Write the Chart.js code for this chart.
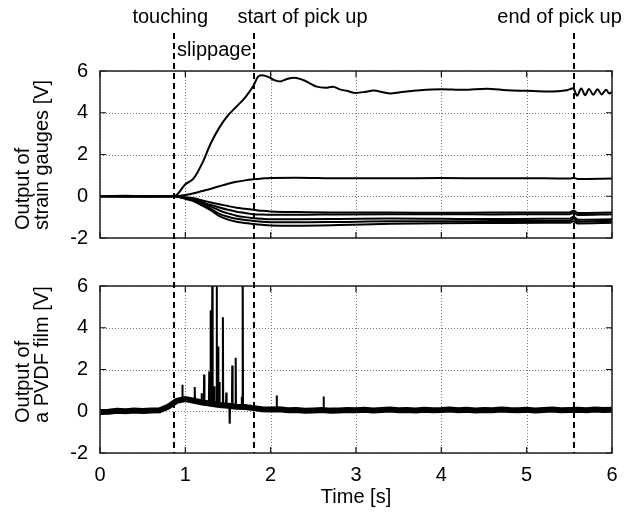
<!DOCTYPE html>
<html>
<head>
<meta charset="utf-8">
<script src="https://cdn.jsdelivr.net/npm/chart.js@4.4.1/dist/chart.umd.min.js"></script>
<style>
  body { margin: 0; background: #fff; }
  #wrap { position: relative; width: 634px; height: 517px; }
  canvas { position: absolute; left: 0; }
  #gauges { top: 0; }
  #pvdf { top: 262px; }
</style>
</head>
<body>
<div id="wrap">
  <canvas id="gauges" width="634" height="262"></canvas>
  <canvas id="pvdf" width="634" height="255"></canvas>
</div>
<script>
// --- DATA ---
const eventTimes = [0.87, 1.81, 5.55];
const eventLabels = ['touching', 'start of pick up', 'end of pick up'];
const phaseLabel = 'slippage';

// strain gauge with the big rise
const timeA = [0, 0.3, 0.6, 0.87, 1.0, 1.1, 1.2, 1.3, 1.4, 1.5, 1.6, 1.7, 1.8, 1.85, 1.9, 1.97,
  2.05, 2.11, 2.19, 2.28, 2.38, 2.46, 2.54, 2.64, 2.73, 2.81, 2.89, 3.0, 3.12, 3.2, 3.4, 3.52, 3.75,
  4.0, 4.26, 4.53, 4.77, 5.0, 5.23, 5.47, 5.547, 5.59, 5.64, 5.685, 5.73, 5.78, 5.83, 5.88, 5.93, 5.97, 6.0];
const gaugeA = [0, 0.02, -0.01, 0, 0.57, 0.87, 1.6, 2.55, 3.3, 3.87, 4.3, 4.73, 5.3, 5.72, 5.8, 5.72,
  5.55, 5.5, 5.62, 5.68, 5.57, 5.41, 5.25, 5.2, 5.25, 5.12, 5.05, 4.95, 5.01, 5.06, 4.92, 4.98, 5.08,
  5.13, 5.1, 5.15, 5.08, 5.05, 5.02, 5.08, 5.17, 4.82, 5.16, 4.84, 5.14, 4.86, 5.12, 4.88, 5.1, 4.92, 5.0];

// the other six gauges share one time base
const timeG = [0, 0.3, 0.6, 0.87, 1.0, 1.1, 1.2, 1.3, 1.4, 1.5, 1.6, 1.7, 1.8, 1.9, 2.0, 2.3, 2.8, 3.4, 4.0, 4.6, 5.2, 5.5, 5.55, 5.6, 6.0];
const gaugeB  = [0.01, -0.01, 0.01, 0, 0.06, 0.14, 0.25, 0.36, 0.48, 0.6, 0.69, 0.76, 0.81, 0.85, 0.88, 0.89, 0.86, 0.86, 0.87, 0.86, 0.86, 0.85, 0.88, 0.83, 0.85];
const gaugeC1 = [0, 0.01, -0.01, 0, -0.05, -0.1, -0.2, -0.3, -0.38, -0.47, -0.55, -0.6, -0.65, -0.7, -0.73, -0.76, -0.78, -0.78, -0.79, -0.78, -0.78, -0.78, -0.7, -0.8, -0.78];
const gaugeC2 = [0, -0.01, 0.01, 0, -0.07, -0.14, -0.28, -0.42, -0.54, -0.65, -0.74, -0.8, -0.86, -0.88, -0.89, -0.89, -0.87, -0.86, -0.86, -0.87, -0.86, -0.86, -0.8, -0.9, -0.86];
const gaugeC3 = [0, 0.01, 0, 0, -0.08, -0.17, -0.33, -0.5, -0.68, -0.82, -0.93, -1.0, -1.05, -1.08, -1.1, -1.1, -1.09, -1.07, -1.08, -1.09, -1.08, -1.08, -0.98, -1.12, -1.1];
const gaugeC4 = [0, -0.01, 0.01, 0, -0.1, -0.2, -0.4, -0.6, -0.84, -0.98, -1.08, -1.14, -1.18, -1.22, -1.24, -1.25, -1.23, -1.2, -1.2, -1.19, -1.18, -1.18, -1.08, -1.22, -1.17];
const gaugeC5 = [0, 0.01, -0.01, 0, -0.12, -0.24, -0.45, -0.68, -0.95, -1.12, -1.22, -1.28, -1.33, -1.37, -1.4, -1.41, -1.38, -1.32, -1.29, -1.28, -1.27, -1.27, -1.2, -1.3, -1.27];

// PVDF film: noisy base level + spikes
const pvdfTime = [0, 0.1, 0.2, 0.3, 0.4, 0.5, 0.6, 0.7, 0.8, 0.9, 1.0, 1.1, 1.2, 1.3, 1.4, 1.5, 1.6, 1.7, 1.8, 1.9,
  2.0, 2.1, 2.2, 2.3, 2.4, 2.5, 2.6, 2.7, 2.8, 2.9, 3.0, 3.1, 3.2, 3.3, 3.4, 3.5, 3.6, 3.7, 3.8, 3.9,
  4.0, 4.1, 4.2, 4.3, 4.4, 4.5, 4.6, 4.7, 4.8, 4.9, 5.0, 5.1, 5.2, 5.3, 5.4, 5.5, 5.6, 5.7, 5.8, 5.9, 6.0];
const pvdfBase = [-0.04, -0.02, 0.02, 0.0, 0.03, 0.01, 0.04, 0.05, 0.22, 0.5, 0.58, 0.5, 0.42, 0.36, 0.3, 0.26, 0.22, 0.2, 0.15, 0.1,
  0.08, 0.1, 0.05, 0.06, 0.02, 0.04, 0.06, 0.03, 0.04, 0.06, 0.05, 0.07, 0.04, 0.06, 0.08, 0.05, 0.06, 0.04, 0.07, 0.05,
  0.06, 0.08, 0.05, 0.07, 0.04, 0.06, 0.05, 0.08, 0.06, 0.05, 0.07, 0.04, 0.06, 0.08, 0.05, 0.06, 0.07, 0.05, 0.08, 0.06, 0.07];
const spikeTimes = [0.965, 1.11, 1.19, 1.22, 1.28, 1.297, 1.316, 1.34, 1.367, 1.383, 1.40, 1.44, 1.48, 1.52, 1.55, 1.59, 1.66, 1.672, 2.07, 2.62];
const spikePeaks = [1.27, 1.16, 0.86, 1.76, 1.9, 4.84, 7.5, 1.2, 7.5, 3.1, 1.4, 4.5, 0.9, -0.6, 2.19, 2.56, 0.7, 7.5, 0.76, 0.71];

// --- HELPERS ---
const fontFamily = "'Liberation Sans', Arial, Helvetica, sans-serif";
const tickFont = { family: fontFamily, size: 20 };
Chart.defaults.font.family = fontFamily;
Chart.defaults.color = '#000';

const pts = (ts, vs) => ts.map((t, i) => ({ x: t, y: vs[i] }));

function spikePoints() {
  const out = [];
  spikeTimes.forEach((t, i) => {
    let k = 0;
    pvdfTime.forEach((pt, j) => { if (Math.abs(pt - t) < Math.abs(pvdfTime[k] - t)) k = j; });
    const base = pvdfBase[k];
    out.push({ x: t - 0.004, y: base }, { x: t, y: spikePeaks[i] }, { x: t + 0.004, y: base }, { x: t + 0.005, y: null });
  });
  return out;
}

const lineStyle = { borderColor: '#000', borderWidth: 2, pointRadius: 0, fill: false, cubicInterpolationMode: 'monotone' };
const gridOpts = { display: false, drawTicks: false };
const borderOpts = { display: false };

// dotted grid, frame, inward ticks, dashed event lines, y title, top labels
const marksPlugin = {
  id: 'marks',
  beforeDatasetsDraw(chart) {
    const ctx = chart.ctx;
    const area = chart.chartArea;
    const xs = chart.scales.x, ys = chart.scales.y;
    ctx.save();
    ctx.strokeStyle = '#777';
    ctx.lineWidth = 1;
    ctx.setLineDash([1, 2]);
    ctx.beginPath();
    xs.ticks.forEach(t => {
      const px = Math.round(xs.getPixelForValue(t.value)) + 0.5;
      ctx.moveTo(px, area.top); ctx.lineTo(px, area.bottom);
    });
    ys.ticks.forEach(t => {
      const py = Math.round(ys.getPixelForValue(t.value)) + 0.5;
      ctx.moveTo(area.left, py); ctx.lineTo(area.right, py);
    });
    ctx.stroke();
    ctx.restore();
  },
  afterDraw(chart, args, opts) {
    const ctx = chart.ctx;
    const area = chart.chartArea;
    const xs = chart.scales.x, ys = chart.scales.y;
    ctx.save();
    ctx.strokeStyle = '#111';
    ctx.lineWidth = 1.2;
    ctx.beginPath();
    xs.ticks.forEach(t => {
      const px = xs.getPixelForValue(t.value);
      ctx.moveTo(px, area.bottom); ctx.lineTo(px, area.bottom - 6);
      ctx.moveTo(px, area.top); ctx.lineTo(px, area.top + 6);
    });
    ys.ticks.forEach(t => {
      const py = ys.getPixelForValue(t.value);
      ctx.moveTo(area.left, py); ctx.lineTo(area.left + 6, py);
      ctx.moveTo(area.right, py); ctx.lineTo(area.right - 6, py);
    });
    ctx.stroke();
    ctx.lineWidth = 1.5;
    ctx.strokeStyle = '#222';
    ctx.strokeRect(area.left, area.top, area.right - area.left, area.bottom - area.top);

    // event lines
    ctx.strokeStyle = '#000';
    ctx.lineWidth = 2;
    ctx.setLineDash([6, 4]);
    const bottom = opts.lineBottom == null ? area.bottom : opts.lineBottom;
    eventTimes.forEach(t => {
      const px = Math.round(xs.getPixelForValue(t));
      ctx.beginPath(); ctx.moveTo(px, opts.lineTop); ctx.lineTo(px, bottom); ctx.stroke();
    });
    ctx.setLineDash([]);

    ctx.fillStyle = '#000';
    ctx.font = '20px ' + fontFamily;
    ctx.textBaseline = 'alphabetic';

    if (opts.eventText) {
      const p = eventTimes.map(t => xs.getPixelForValue(t));
      ctx.textAlign = 'center';
      ctx.fillText(eventLabels[0], p[0] - 4, 23);
      ctx.fillText(phaseLabel, (p[0] + p[1]) / 2, 56);
      ctx.textAlign = 'left';
      ctx.fillText(eventLabels[1], p[1] - 17, 23);
      ctx.textAlign = 'center';
      ctx.fillText(eventLabels[2], p[2] - 14, 23);
    }

    // rotated two-line axis title
    ctx.textAlign = 'left';
    ctx.translate(0, opts.titleEnd);
    ctx.rotate(-Math.PI / 2);
    opts.title.forEach((line, i) => ctx.fillText(line, 0, opts.titleBase[i]));
    ctx.restore();
  }
};

// --- TOP: strain gauges ---
new Chart(document.getElementById('gauges'), {
  type: 'line',
  data: {
    datasets: [
      { data: pts(timeA, gaugeA), ...lineStyle },
      { data: pts(timeG, gaugeB), ...lineStyle },
      { data: pts(timeG, gaugeC1), ...lineStyle },
      { data: pts(timeG, gaugeC2), ...lineStyle },
      { data: pts(timeG, gaugeC3), ...lineStyle },
      { data: pts(timeG, gaugeC4), ...lineStyle },
      { data: pts(timeG, gaugeC5), ...lineStyle }
    ]
  },
  options: {
    responsive: false,
    animation: false,
    events: [],
    layout: { padding: { top: 71, right: 22, left: 0, bottom: 0 } },
    plugins: {
      legend: { display: false },
      tooltip: { enabled: false },
      marks: { title: ['Output of', 'strain gauges [V]'], titleEnd: 230, titleBase: [29, 48], lineTop: 33, lineBottom: 262, eventText: true }
    },
    scales: {
      x: { type: 'linear', min: 0, max: 6, ticks: { stepSize: 1, display: false }, grid: gridOpts, border: borderOpts,
           afterFit: s => { s.height = 23; } },
      y: { min: -2, max: 6, ticks: { stepSize: 2, padding: 12, color: '#000', font: tickFont }, grid: gridOpts, border: borderOpts,
           afterFit: s => { s.width = 100; } }
    }
  },
  plugins: [marksPlugin]
});

// --- BOTTOM: PVDF film ---
new Chart(document.getElementById('pvdf'), {
  type: 'line',
  data: {
    datasets: [
      { data: spikePoints(), borderColor: '#000', borderWidth: 2, pointRadius: 0, spanGaps: false, tension: 0 },
      { data: pts(pvdfTime, pvdfBase), borderColor: '#000', borderWidth: 6, pointRadius: 0, tension: 0 }
    ]
  },
  options: {
    responsive: false,
    animation: false,
    events: [],
    layout: { padding: { top: 22, right: 22, left: 0, bottom: 0 } },
    plugins: {
      legend: { display: false },
      tooltip: { enabled: false },
      marks: { title: ['Output of', 'a PVDF film [V]'], titleEnd: 161, titleBase: [29, 48], lineTop: 0, lineBottom: null, eventText: false }
    },
    scales: {
      x: { type: 'linear', min: 0, max: 6,
           ticks: { stepSize: 1, padding: 10, color: '#000', font: tickFont, maxRotation: 0 },
           title: { display: true, text: 'Time [s]', color: '#000', font: tickFont, padding: { top: 0, bottom: 8 } },
           grid: gridOpts, border: borderOpts,
           afterFit: s => { s.height = 64; } },
      y: { min: -2, max: 6, ticks: { stepSize: 2, padding: 12, color: '#000', font: tickFont }, grid: gridOpts, border: borderOpts,
           afterFit: s => { s.width = 100; } }
    }
  },
  plugins: [marksPlugin]
});
</script>
</body>
</html>
